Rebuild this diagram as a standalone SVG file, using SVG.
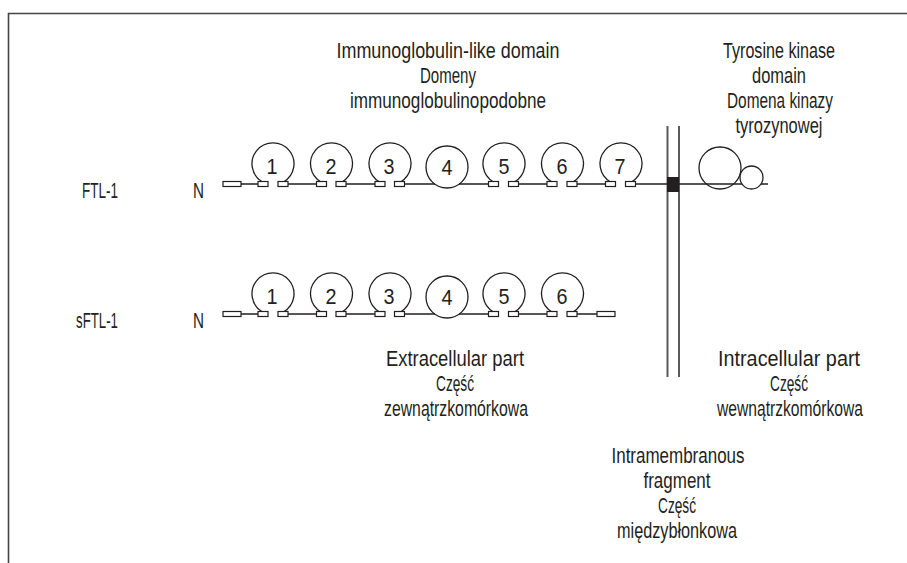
<svg xmlns="http://www.w3.org/2000/svg" width="907" height="563" viewBox="0 0 907 563">
<style>
text{font-family:"Liberation Sans",Arial,sans-serif;font-size:22px;fill:#231f20}
.c{text-anchor:middle}
.d{font-size:24px}
.ln{stroke:#231f20;stroke-width:1.3;fill:none}
.bx{fill:#fff;stroke:#231f20;stroke-width:1.2}
.mem{stroke:#5a5a5a;stroke-width:2;fill:none}
</style>
<rect width="907" height="563" fill="#fff"/>
<path d="M8.5 563V13.5H907" fill="none" stroke="#444" stroke-width="1.6"/>
<g id="labels-top">
<text class="c" x="448" y="58" textLength="223" lengthAdjust="spacingAndGlyphs">Immunoglobulin-like domain</text>
<text class="c" x="448" y="83" textLength="56" lengthAdjust="spacingAndGlyphs">Domeny</text>
<text class="c" x="448" y="108" textLength="196" lengthAdjust="spacingAndGlyphs">immunoglobulinopodobne</text>
<text class="c" x="779" y="58" textLength="112" lengthAdjust="spacingAndGlyphs">Tyrosine kinase</text>
<text class="c" x="779" y="83" textLength="54" lengthAdjust="spacingAndGlyphs">domain</text>
<text class="c" x="780" y="108" textLength="106" lengthAdjust="spacingAndGlyphs">Domena kinazy</text>
<text class="c" x="779" y="133" textLength="87" lengthAdjust="spacingAndGlyphs">tyrozynowej</text>
</g>
<g id="connectors">
<path class="mem" d="M667.5 126V377M679 126V377"/>
<path class="ln" d="M241 184H258M288 184H316M346 184H375M405 184H435M459 184H488M519 184H547M577 184H606M636 184H768"/>
<path class="ln" d="M241 314H258M288 314H316M346 314H375M405 314H435M459 314H488M519 314H547M577 314H597"/>
</g>
<g id="ftl1">
<text x="82" y="198" textLength="36" lengthAdjust="spacingAndGlyphs">FTL-1</text>
<text x="193" y="198" textLength="11" lengthAdjust="spacingAndGlyphs">N</text>
<rect class="bx" x="223" y="181.5" width="18" height="5"/>
<g class="ln">
<path d="M262.5 182A21 21 0 1 1 283.5 182"/>
<path d="M321 182A21 21 0 1 1 342 182"/>
<path d="M379.5 182A21 21 0 1 1 400.5 182"/>
<circle cx="447" cy="167" r="21"/>
<path d="M493.5 182A21 21 0 1 1 514.5 182"/>
<path d="M552 182A21 21 0 1 1 573 182"/>
<path d="M610.5 182A21 21 0 1 1 631.5 182"/>
<circle cx="720" cy="168" r="21"/>
<circle cx="751.5" cy="177.5" r="11.5" fill="#fff"/>
</g>
<g class="bx">
<rect x="258" y="181.5" width="10" height="5"/><rect x="278" y="181.5" width="10" height="5"/>
<rect x="316.5" y="181.5" width="10" height="5"/><rect x="336" y="181.5" width="10" height="5"/>
<rect x="375" y="181.5" width="10" height="5"/><rect x="394.5" y="181.5" width="10" height="5"/>
<rect x="488.5" y="181.5" width="10" height="5"/><rect x="508.5" y="181.5" width="10" height="5"/>
<rect x="547" y="181.5" width="10" height="5"/><rect x="567" y="181.5" width="10" height="5"/>
<rect x="605.5" y="181.5" width="10" height="5"/><rect x="625.5" y="181.5" width="10" height="5"/>
</g>
<g class="d">
<text class="c" x="272" y="174" textLength="11" lengthAdjust="spacingAndGlyphs">1</text>
<text class="c" x="331" y="174" textLength="11" lengthAdjust="spacingAndGlyphs">2</text>
<text class="c" x="389" y="174" textLength="11" lengthAdjust="spacingAndGlyphs">3</text>
<text class="c" x="447" y="175" textLength="11" lengthAdjust="spacingAndGlyphs">4</text>
<text class="c" x="504" y="174" textLength="11" lengthAdjust="spacingAndGlyphs">5</text>
<text class="c" x="562" y="174" textLength="11" lengthAdjust="spacingAndGlyphs">6</text>
<text class="c" x="620" y="174" textLength="11" lengthAdjust="spacingAndGlyphs">7</text>
</g>
<rect x="667" y="177" width="12" height="15" fill="#231f20"/>
</g>
<g id="sftl1">
<text x="76" y="328" textLength="42" lengthAdjust="spacingAndGlyphs">sFTL-1</text>
<text x="193" y="328" textLength="11" lengthAdjust="spacingAndGlyphs">N</text>
<rect class="bx" x="223" y="311.5" width="18" height="5"/>
<g class="ln">
<path d="M262.5 312A21 21 0 1 1 283.5 312"/>
<path d="M321 312A21 21 0 1 1 342 312"/>
<path d="M379.5 312A21 21 0 1 1 400.5 312"/>
<circle cx="447" cy="297" r="21"/>
<path d="M493.5 312A21 21 0 1 1 514.5 312"/>
<path d="M552 312A21 21 0 1 1 573 312"/>
</g>
<g class="bx">
<rect x="258" y="311.5" width="10" height="5"/><rect x="278" y="311.5" width="10" height="5"/>
<rect x="316.5" y="311.5" width="10" height="5"/><rect x="336" y="311.5" width="10" height="5"/>
<rect x="375" y="311.5" width="10" height="5"/><rect x="394.5" y="311.5" width="10" height="5"/>
<rect x="488.5" y="311.5" width="10" height="5"/><rect x="508.5" y="311.5" width="10" height="5"/>
<rect x="547" y="311.5" width="10" height="5"/><rect x="567" y="311.5" width="10" height="5"/>
<rect x="597" y="311.5" width="18" height="5"/>
</g>
<g class="d">
<text class="c" x="272" y="304" textLength="11" lengthAdjust="spacingAndGlyphs">1</text>
<text class="c" x="331" y="304" textLength="11" lengthAdjust="spacingAndGlyphs">2</text>
<text class="c" x="389" y="304" textLength="11" lengthAdjust="spacingAndGlyphs">3</text>
<text class="c" x="447" y="305" textLength="11" lengthAdjust="spacingAndGlyphs">4</text>
<text class="c" x="504" y="304" textLength="11" lengthAdjust="spacingAndGlyphs">5</text>
<text class="c" x="562" y="304" textLength="11" lengthAdjust="spacingAndGlyphs">6</text>
</g>
</g>
<g id="labels-bottom">
<text class="c" x="455" y="366" textLength="138" lengthAdjust="spacingAndGlyphs">Extracellular part</text>
<text class="c" x="455" y="391" textLength="38" lengthAdjust="spacingAndGlyphs">Część</text>
<text class="c" x="456" y="416" textLength="144" lengthAdjust="spacingAndGlyphs">zewnątrzkomórkowa</text>
<text class="c" x="789" y="366" textLength="142" lengthAdjust="spacingAndGlyphs">Intracellular part</text>
<text class="c" x="789" y="391" textLength="38" lengthAdjust="spacingAndGlyphs">Część</text>
<text class="c" x="790" y="416" textLength="146" lengthAdjust="spacingAndGlyphs">wewnątrzkomórkowa</text>
<text class="c" x="678" y="463" textLength="133" lengthAdjust="spacingAndGlyphs">Intramembranous</text>
<text class="c" x="677" y="488" textLength="67" lengthAdjust="spacingAndGlyphs">fragment</text>
<text class="c" x="677" y="513" textLength="38" lengthAdjust="spacingAndGlyphs">Część</text>
<text class="c" x="677" y="538" textLength="120" lengthAdjust="spacingAndGlyphs">międzybłonkowa</text>
</g>
</svg>
